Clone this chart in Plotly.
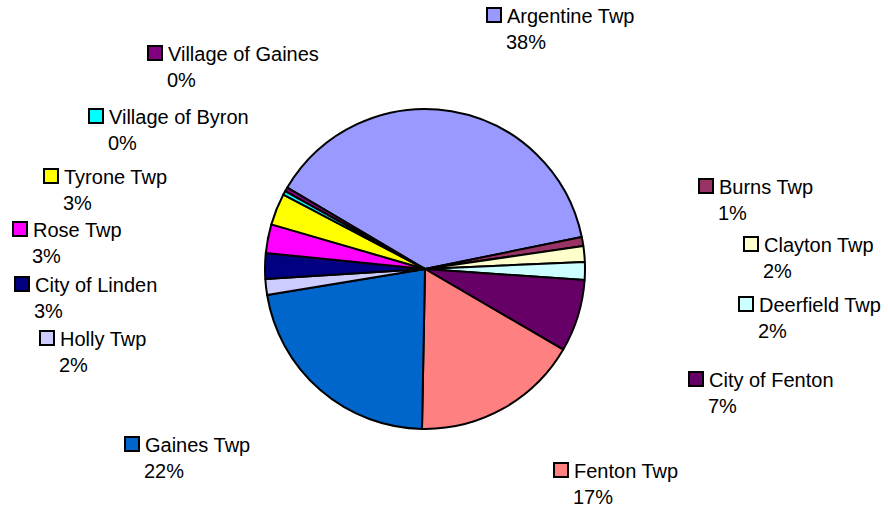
import plotly.graph_objects as go

W, H = 888, 507

# ---- data ----
names = ["Argentine Twp", "Burns Twp", "Clayton Twp", "Deerfield Twp", "City of Fenton",
         "Fenton Twp", "Gaines Twp", "Holly Twp", "City of Linden", "Rose Twp",
         "Tyrone Twp", "Village of Byron", "Village of Gaines"]
values = [38.3, 0.9, 1.6, 1.8, 7.3, 16.9, 22.1, 1.6, 2.6, 2.9, 3.2, 0.4, 0.4]
colors = ["#9999FF", "#993366", "#FFFFCC", "#CCFFFF", "#660066",
          "#FF8080", "#0066CC", "#CCCCFF", "#000080", "#FF00FF",
          "#FFFF00", "#00FFFF", "#800080"]

# ---- label layout (pixel positions: text start x, name-line centre y) ----
label_x = [508, 720, 765, 760, 710, 575, 146, 61, 36, 34, 65, 110, 169]
label_y = [16, 187, 245, 305, 380, 471, 445, 339, 285, 230, 177, 117, 54]

cx, cy, r = 425, 269, 160
FONT = "Liberation Sans, Arial, sans-serif"
FS = 20
LINE = 26
PAD = 3  # annotation inner padding

def px(x):
    return x / W

def py(y):
    return 1 - y / H

total = sum(values)
pcts = [f"{int(v / total * 100 + 0.5)}%" for v in values]

fig = go.Figure()
fig.add_trace(go.Pie(
    labels=names, values=values, sort=False, direction="clockwise",
    rotation=-59.4,
    marker=dict(colors=colors, line=dict(color="black", width=2)),
    textinfo="none", hoverinfo="label+percent",
    domain=dict(x=[px(cx - r), px(cx + r)], y=[py(cy + r), py(cy - r)]),
    showlegend=False,
))

annotations = []
shapes = []
for n, p, c, x, y in zip(names, pcts, colors, label_x, label_y):
    annotations.append(dict(x=px(x - PAD), y=py(y), xref="paper", yref="paper",
                            text=n, showarrow=False, xanchor="left", yanchor="middle",
                            font=dict(family=FONT, size=FS, color="black")))
    annotations.append(dict(x=px(x - 1 - PAD), y=py(y + LINE), xref="paper", yref="paper",
                            text=p, showarrow=False, xanchor="left", yanchor="middle",
                            font=dict(family=FONT, size=FS, color="black")))
    shapes.append(dict(type="rect", xref="paper", yref="paper",
                       x0=px(x - 21), x1=px(x - 7), y0=py(y - 8), y1=py(y + 6),
                       fillcolor=c, line=dict(color="black", width=2)))

fig.update_layout(
    width=W, height=H, margin=dict(l=0, r=0, t=0, b=0),
    paper_bgcolor="white", plot_bgcolor="white",
    annotations=annotations, shapes=shapes,
)

fig.write_html("out.html")
